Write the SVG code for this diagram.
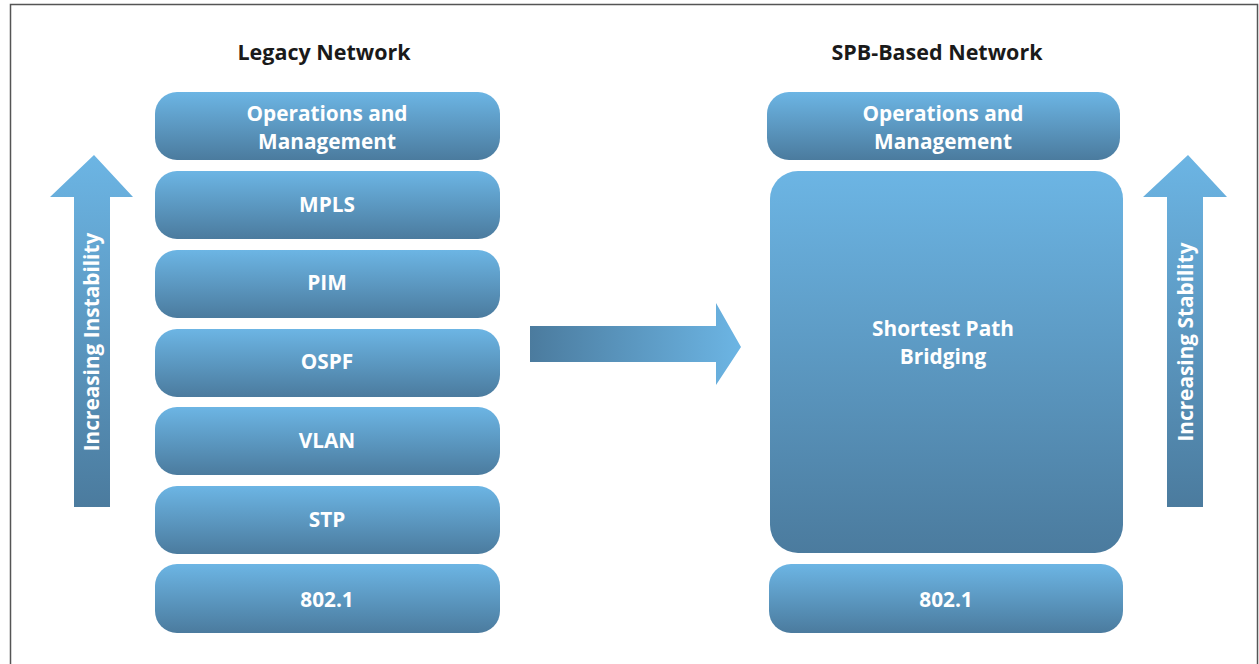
<svg xmlns="http://www.w3.org/2000/svg" width="1259" height="664" viewBox="0 0 1259 664">
<defs>
<linearGradient id="gv" x1="0" y1="0" x2="0" y2="1">
<stop offset="0" stop-color="#6cb5e4"/>
<stop offset="1" stop-color="#4b7b9e"/>
</linearGradient>
<linearGradient id="gh" x1="0" y1="0" x2="1" y2="0">
<stop offset="0" stop-color="#4b7b9e"/>
<stop offset="1" stop-color="#6cb5e4"/>
</linearGradient>
<style>
.box{fill:url(#gv);}
.lbl{font-family:"Open Sans","Liberation Sans",sans-serif;font-weight:700;font-size:20.8px;fill:#ffffff;text-anchor:middle;}
.ttl{font-family:"Open Sans","Liberation Sans",sans-serif;font-weight:700;font-size:21.5px;fill:#1a1a1a;text-anchor:middle;}
</style>
</defs>
<rect x="0" y="0" width="1259" height="664" fill="#ffffff"/>
<rect x="10.5" y="4.5" width="1247" height="670" fill="none" stroke="#555555" stroke-width="1.5"/>
<g id="title-legacy"><text class="ttl" x="324" y="60">Legacy Network</text></g>
<g id="title-spb"><text class="ttl" x="937" y="60">SPB-Based Network</text></g>
<g id="l-ops"><rect class="box" x="155" y="92" width="345" height="68" rx="22"/><text class="lbl" x="327" y="121">Operations and</text><text class="lbl" x="327" y="149">Management</text></g>
<g id="l-mpls"><rect class="box" x="155" y="171" width="345" height="68" rx="22"/><text class="lbl" x="327" y="212">MPLS</text></g>
<g id="l-pim"><rect class="box" x="155" y="250" width="345" height="68" rx="22"/><text class="lbl" x="327" y="290">PIM</text></g>
<g id="l-ospf"><rect class="box" x="155" y="329" width="345" height="68" rx="22"/><text class="lbl" x="327" y="369">OSPF</text></g>
<g id="l-vlan"><rect class="box" x="155" y="407" width="345" height="68" rx="22"/><text class="lbl" x="327" y="448">VLAN</text></g>
<g id="l-stp"><rect class="box" x="155" y="486" width="345" height="68" rx="22"/><text class="lbl" x="327" y="527">STP</text></g>
<g id="l-8021"><rect class="box" x="155" y="564" width="345" height="69" rx="22"/><text class="lbl" x="327" y="607">802.1</text></g>
<g id="r-ops"><rect class="box" x="767" y="92" width="353" height="68" rx="22"/><text class="lbl" x="943" y="121">Operations and</text><text class="lbl" x="943" y="149">Management</text></g>
<g id="r-spb"><rect class="box" x="770" y="171" width="353" height="382" rx="28"/><text class="lbl" x="943" y="336">Shortest Path</text><text class="lbl" x="943" y="364">Bridging</text></g>
<g id="r-8021"><rect class="box" x="769" y="564" width="354" height="69" rx="22"/><text class="lbl" x="946" y="607">802.1</text></g>
<g id="connectors">
<path d="M74,507 L74,197 L50,197 L94,155 L133,197 L110,197 L110,507 Z" fill="url(#gv)"/>
<path d="M1167,507 L1167,197 L1143,197 L1188,155 L1227,197 L1203,197 L1203,507 Z" fill="url(#gv)"/>
<path d="M530,326 L716,326 L716,303 L741,347 L716,385 L716,362 L530,362 Z" fill="url(#gh)"/>
</g>
<g id="label-instability"><text class="lbl" transform="translate(99,342) rotate(-90)">Increasing Instability</text></g>
<g id="label-stability"><text class="lbl" transform="translate(1193,342) rotate(-90)">Increasing Stability</text></g>
</svg>
